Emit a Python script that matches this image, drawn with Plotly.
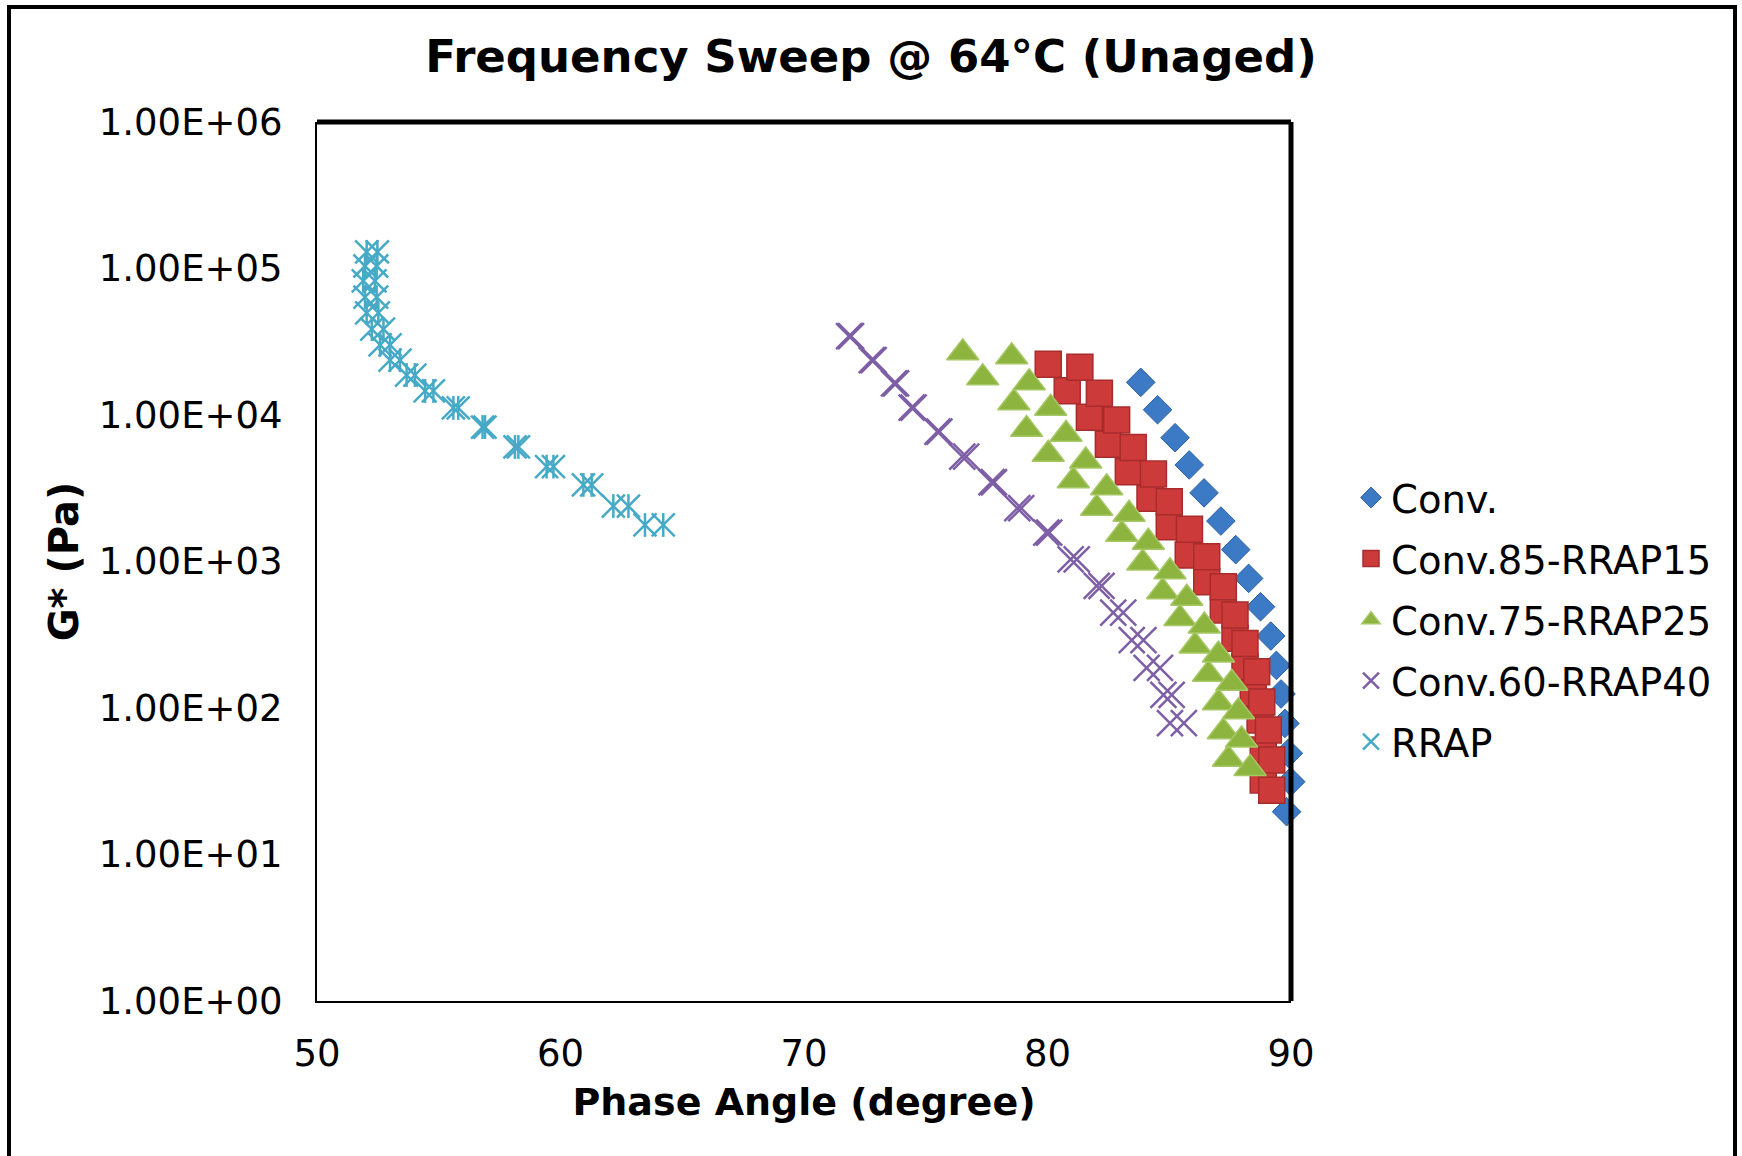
import plotly.graph_objects as go

# ---------------- data ----------------
ytick_vals = [1, 10, 100, 1000, 10000, 100000, 1000000]
ytick_text = ["1.00E+00", "1.00E+01", "1.00E+02", "1.00E+03", "1.00E+04", "1.00E+05", "1.00E+06"]
xtick_vals = [50, 60, 70, 80, 90]

series_names = ["Conv.", "Conv.85-RRAP15", "Conv.75-RRAP25", "Conv.60-RRAP40", "RRAP"]

# Conv.
conv_phase = [83.83, 84.52, 85.24, 85.82, 86.43, 87.12, 87.73, 88.26, 88.75, 89.17, 89.40, 89.59, 89.75, 89.89, 89.99, 89.82]
conv_gstar = [16710, 10860, 7000, 4560, 2940, 1888, 1205, 767, 491, 310, 195.4, 124.7, 78.5, 49.1, 31.4, 19.6]

# Conv.85-RRAP15 (two replicate runs)
c85_phase_a = [80.03, 80.81, 81.72, 82.50, 83.32, 84.21, 85.00, 85.78, 86.54, 87.22, 87.70, 88.11, 88.45, 88.73, 88.86, 88.86]
c85_gstar_a = [22180, 14660, 9640, 6310, 4100, 2700, 1730, 1107, 728, 467, 299, 191, 126, 82.8, 51.6, 32.3]
c85_phase_b = [81.33, 82.13, 82.84, 83.52, 84.35, 85.00, 85.83, 86.54, 87.22, 87.70, 88.11, 88.59, 88.80, 89.07, 89.21, 89.21]
c85_gstar_b = [21180, 14060, 9250, 6010, 3950, 2560, 1660, 1079, 673, 432, 276, 177, 110, 70.8, 44.2, 27.5]

# Conv.75-RRAP25
c75_phase_a = [76.52, 77.34, 78.62, 79.14, 80.03, 81.06, 82.02, 83.05, 83.91, 84.73, 85.44, 86.06, 86.61, 87.02, 87.22, 87.43]
c75_gstar_a = [26600, 17990, 12130, 7980, 5400, 3560, 2310, 1535, 977, 622, 409, 265, 170, 108.6, 68.9, 44.7]
c75_phase_b = [78.53, 79.25, 80.13, 80.76, 81.57, 82.43, 83.35, 84.14, 85.03, 85.72, 86.44, 87.02, 87.57, 87.84, 87.97, 88.32]
c75_gstar_b = [25000, 16630, 11120, 7380, 4850, 3190, 2100, 1352, 851, 561, 363, 230, 147.6, 94.4, 60.5, 38.7]

# Conv.60-RRAP40
c60_phase_a = [71.85, 72.78, 73.70, 74.42, 75.48, 76.50, 77.70, 78.76, 79.95, 80.95, 82.02, 82.70, 83.46, 84.07, 84.76, 85.03]
c60_phase_b = [71.93, 72.86, 73.78, 74.50, 75.56, 76.66, 77.80, 78.92, 80.07, 81.20, 82.22, 83.11, 83.94, 84.62, 85.10, 85.60]
c60_gstar = [34600, 23700, 16440, 11220, 7690, 5190, 3475, 2310, 1574, 1035, 681, 448, 291, 188, 122.7, 78.7]

# RRAP
rrap_phase_a = [52.04, 51.97, 51.90, 51.97, 52.04, 52.25, 52.59, 53.00, 53.68, 54.44, 55.60, 56.80, 58.13, 59.43, 60.94, 62.17, 63.47]
rrap_phase_b = [52.48, 52.45, 52.38, 52.45, 52.52, 52.73, 53.00, 53.41, 54.02, 54.78, 55.80, 56.90, 58.27, 59.71, 61.28, 62.79, 64.22]
rrap_gstar = [129700, 104000, 82200, 63800, 49700, 38600, 30100, 23700, 18750, 14590, 11170, 8280, 6050, 4440, 3330, 2390, 1775]

colors = ["#3C7AC5", "#CC3A3A", "#8DB43E", "#7E5FA6", "#46AAC6"]

FONT = "DejaVu Sans, Verdana, sans-serif"

fig = go.Figure()

fig.add_trace(go.Scatter(
    x=conv_phase, y=conv_gstar, mode="markers", name=series_names[0], legendgroup="g0",
    marker=dict(symbol="diamond", size=22, color=colors[0], line=dict(color="#2D62A3", width=1)),
    cliponaxis=False))

fig.add_trace(go.Scatter(
    x=c85_phase_a + c85_phase_b, y=c85_gstar_a + c85_gstar_b, mode="markers",
    name=series_names[1], legendgroup="g1",
    marker=dict(symbol="square", size=26, color=colors[1], line=dict(color="#A82C2C", width=1.5)),
    cliponaxis=False))

fig.add_trace(go.Scatter(
    x=c75_phase_a + c75_phase_b, y=c75_gstar_a + c75_gstar_b, mode="markers",
    name=series_names[2], legendgroup="g2",
    marker=dict(symbol="triangle-up", size=28, color=colors[2], line=dict(color="#A6C765", width=1.5)),
    cliponaxis=False))

fig.add_trace(go.Scatter(
    x=c60_phase_a + c60_phase_b, y=c60_gstar + c60_gstar, mode="markers",
    name=series_names[3], legendgroup="g3",
    marker=dict(symbol="x-thin", size=26, color=colors[3], line=dict(color=colors[3], width=2.5)),
    cliponaxis=False))

fig.add_trace(go.Scatter(
    x=rrap_phase_a + rrap_phase_b, y=rrap_gstar + rrap_gstar, mode="markers",
    name=series_names[4], legendgroup="g4",
    marker=dict(symbol="x-thin", size=23, color=colors[4], line=dict(color=colors[4], width=2.5)),
    cliponaxis=False))
fig.add_trace(go.Scatter(
    x=rrap_phase_a + rrap_phase_b, y=rrap_gstar + rrap_gstar, mode="markers",
    name=series_names[4], legendgroup="g4", showlegend=False,
    marker=dict(symbol="line-ns", size=17, color=colors[4], line=dict(color=colors[4], width=2.5)),
    cliponaxis=False))

W, H = 1742, 1156
L, R, T, B = 317, 451, 122, 155
pw, ph = W - L - R, H - T - B

fig.update_layout(
    width=W, height=H,
    margin=dict(l=L, r=R, t=T, b=B),
    paper_bgcolor="white", plot_bgcolor="white",
    font=dict(family=FONT, color="black", size=37),
    title=dict(text="<b>Frequency Sweep @ 64°C (Unaged)</b>", x=0.5, xref="container",
               xanchor="center", y=1 - 56 / H, yanchor="middle", font=dict(size=45, family=FONT)),
    showlegend=True,
    legend=dict(x=(1351 - L) / pw, xanchor="left", y=(H - B - 620) / ph, yanchor="middle",
                font=dict(size=38.5, family=FONT), tracegroupgap=8, bgcolor="rgba(0,0,0,0)",
                itemwidth=30),
    xaxis=dict(range=[50, 90], tickvals=xtick_vals, ticktext=[str(v) for v in xtick_vals],
               showgrid=False, zeroline=False, showline=True, linecolor="black", linewidth=2,
               ticks="", ticklabelstandoff=19, tickfont=dict(size=37),
               title=dict(text="<b>Phase Angle (degree)</b>", font=dict(size=38), standoff=14)),
    yaxis=dict(type="log", range=[0, 6], tickvals=ytick_vals, ticktext=ytick_text,
               showgrid=False, zeroline=False, showline=True, linecolor="black", linewidth=2,
               ticks="", ticklabelstandoff=25, tickfont=dict(size=37),
               title=dict(text="<b>G* (Pa)</b>", font=dict(size=40), standoff=8)),
)

# thick top and right plot-area border lines
fig.add_shape(type="line", xref="paper", yref="paper", x0=0, x1=1, y0=1, y1=1,
              line=dict(color="black", width=5))
fig.add_shape(type="line", xref="paper", yref="paper", x0=1, x1=1, y0=0, y1=1,
              line=dict(color="black", width=5))

# outer chart frame
fig.add_shape(type="rect", xref="paper", yref="paper",
              x0=(9 - L) / pw, x1=(1735 - L) / pw,
              y0=(H - B - 1170) / ph, y1=(H - B - 7) / ph,
              line=dict(color="black", width=4), fillcolor="rgba(0,0,0,0)", layer="below")

fig.write_html("out.html")
